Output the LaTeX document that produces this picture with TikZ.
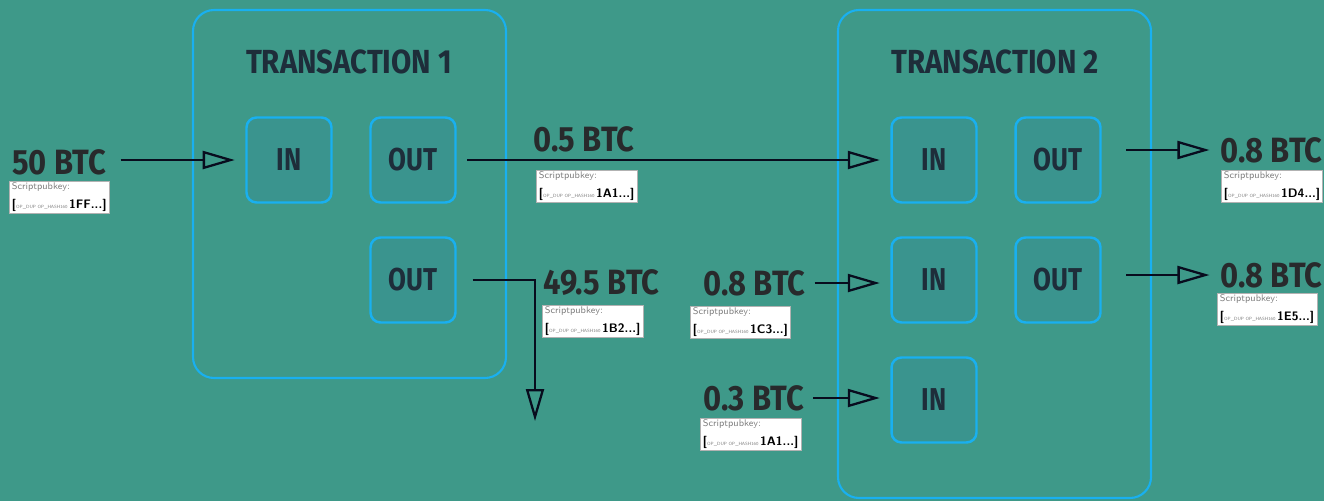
\documentclass[tikz,border=0pt]{standalone}
\usepackage{fontspec}
\setmainfont{Fira Sans}
\newfontfamily\lblfont[FakeStretch=0.82]{Fira Sans}
\newfontfamily\amtfont[FakeStretch=0.88]{Fira Sans}
\usetikzlibrary{arrows.meta}
\definecolor{bgteal}{RGB}{62,153,137}
\definecolor{boxteal}{RGB}{58,148,142}
\definecolor{edgeblue}{RGB}{25,176,240}
\definecolor{inkdark}{RGB}{30,45,58}
\definecolor{amtdark}{RGB}{40,42,44}
\definecolor{arrowink}{RGB}{8,12,30}
\newcommand{\spk}[1]{{\fontsize{5.5}{5.5}\selectfont\color{gray}Scriptpubkey:}\\[-1.5pt]%
  {\fontsize{7}{7}\selectfont\bfseries[}{\fontsize{2.6}{3}\selectfont\color{gray} OP\_DUP OP\_HASH160 }{\fontsize{7}{7}\selectfont\bfseries #1...]}}
\begin{document}
\begin{tikzpicture}[x=0.02cm,y=-0.02cm,
    >={Triangle[open,length=0.64cm,width=0.36cm]},
    txbox/.style={draw=edgeblue,line width=1.2pt,rounded corners=0.42cm},
    iobox/.style={draw=edgeblue,fill=boxteal,line width=1.4pt,rounded corners=0.2cm,
      minimum width=1.7cm,minimum height=1.7cm,text=inkdark,
      font=\lblfont\bfseries\fontsize{18}{20}\selectfont},
    title/.style={text=inkdark,font=\amtfont\bfseries\fontsize{19}{21}\selectfont},
    amount/.style={text=amtdark,font=\amtfont\bfseries\fontsize{20}{22}\selectfont,inner sep=0pt},
    spkbox/.style={draw=gray!60,fill=white,line width=0.3pt,inner xsep=1.5pt,inner ysep=1pt,
      align=left,font=\sffamily},
    flow/.style={->,line width=1.3pt,arrowink,shorten >=6pt}]
  \fill[bgteal] (0,0) rectangle (1324,501);
  \useasboundingbox (0,0) rectangle (1324,501);
  %
  % transaction 1
  \draw[txbox] (193,10) rectangle (506,378);
  \node[title] (t1) at (349,62) {TRANSACTION 1};
  \node[iobox] (in11) at (289,160) {IN};
  \node[iobox] (out11) at (413,160) {OUT};
  \node[iobox] (out12) at (413,280) {OUT};
  %
  % transaction 2
  \draw[txbox] (838,10) rectangle (1151,498);
  \node[title] (t2) at (995,62) {TRANSACTION 2};
  \node[iobox] (in21) at (934,160) {IN};
  \node[iobox] (in22) at (934,280) {IN};
  \node[iobox] (in23) at (934,400) {IN};
  \node[iobox] (out21) at (1058,160) {OUT};
  \node[iobox] (out22) at (1058,280) {OUT};
  %
  % amounts
  \node[amount,anchor=west] (a50) at (12,162) {50 BTC};
  \node[spkbox,anchor=north west] (s50) at (9,181) {\spk{1FF}};
  \node[amount,anchor=west] (a05) at (533,139) {0.5 BTC};
  \node[spkbox,anchor=north west] (s05) at (536,170) {\spk{1A1}};
  \node[amount,anchor=west] (a495) at (543,283) {49.5 BTC};
  \node[spkbox,anchor=north west] (s495) at (542,305) {\spk{1B2}};
  \node[amount,anchor=west] (a08) at (703,283) {0.8 BTC};
  \node[spkbox,anchor=north west] (s08) at (690,306) {\spk{1C3}};
  \node[amount,anchor=west] (a03) at (703,398) {0.3 BTC};
  \node[spkbox,anchor=north west] (s03) at (700,418) {\spk{1A1}};
  \node[amount,anchor=west] (r1) at (1220,150) {0.8 BTC};
  \node[spkbox,anchor=north west] (sr1) at (1221,170) {\spk{1D4}};
  \node[amount,anchor=west] (r2) at (1220,275) {0.8 BTC};
  \node[spkbox,anchor=north west] (sr2) at (1217,293) {\spk{1E5}};
  %
  \coordinate (down) at (535,421);
  %
  \draw[flow] ([xshift=8pt]a50.east |- in11.west) -- (in11.west);
  \draw[flow] ([xshift=6pt]out11.east) -- (in21.west);
  \draw[flow,shorten >=0pt] ([xshift=9pt]out12.east) -| (down);
  \draw[flow] ([xshift=5pt]a08.east) -- (a08.east -| in22.west);
  \draw[flow] ([xshift=5pt]a03.east) -- (a03.east -| in23.west);
  \draw[flow] ([xshift=14pt]out21.east |- r1.west) -- (r1.west);
  \draw[flow] ([xshift=14pt]out22.east |- r2.west) -- (r2.west);
\end{tikzpicture}
\end{document}
